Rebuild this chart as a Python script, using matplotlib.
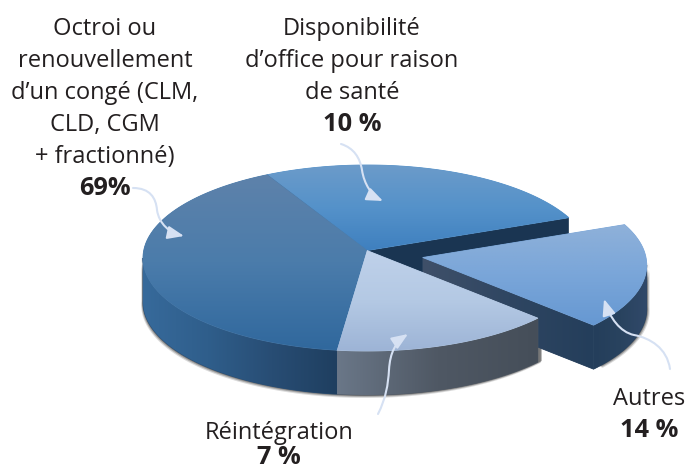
import matplotlib
matplotlib.use("Agg")
import matplotlib.pyplot as plt
import numpy as np
from matplotlib.colors import LinearSegmentedColormap
from matplotlib.patches import FancyArrowPatch, Polygon
from matplotlib.path import Path

# label lines and printed values
octroi_lines = ["Octroi ou", "renouvellement", "d\u2019un congé (CLM,", "CLD, CGM", "+ fractionné)"]
dispo_lines = ["Disponibilité", "d\u2019office pour raison", "de santé"]
reint_lines = ["Réintégration"]
autres_lines = ["Autres"]
percent_labels = ["69%", "7 %", "14 %", "10 %"]

# the slices in the original are not proportional to the printed values,
# so the sweep of each one (degrees, counter-clockwise) is read off the picture
slice_names = ["Octroi", "Réintégration", "Autres", "Disponibilité"]
drawn_degrees = [145.8, 57.4, 66.0, 90.8]
start_angle = 116.5

# ellipse geometry in image pixels
CX, CY = 367, 258
RX, RY = 224, 93
DEPTH = 44
APEX_SHIFT = -7.5
EXPLODE = (55.7, 7)

edges = start_angle + np.concatenate([[0], np.cumsum(drawn_degrees)])
angle_ranges = dict(zip(slice_names, zip(edges[:-1], edges[1:])))


def arc(a0, a1, dx=0, dy=0, n=120):
    t = np.radians(np.linspace(a0, a1, n))
    return np.column_stack([CX + dx + RX * np.cos(t), CY + dy - RY * np.sin(t)])


def top_face(name, dx=0, dy=0):
    a0, a1 = angle_ranges[name]
    apex = [[CX + dx, CY + dy + APEX_SHIFT]]
    return np.vstack([apex, arc(a0, a1, dx, dy), apex])


def outer_wall(a0, a1, dx=0, dy=0):
    pts = arc(a0, a1, dx, dy)
    return np.vstack([pts, pts[::-1] + [0, DEPTH]])


def gradient_fill(ax, xy, colors, z, vertical=True):
    x0, x1 = xy[:, 0].min(), xy[:, 0].max()
    y0, y1 = xy[:, 1].min(), xy[:, 1].max()
    ramp = np.linspace(0, 1, 256)
    ramp = ramp[:, None] if vertical else ramp[None, :]
    cmap = LinearSegmentedColormap.from_list("g", colors)
    # solid underlay keeps the edges smooth and closes gaps between clipped images
    ax.add_patch(Polygon(xy, closed=True, color=colors[len(colors) // 2], lw=0.6, zorder=z - 0.01))
    im = ax.imshow(ramp, cmap=cmap, extent=(x0, x1, y1, y0), origin="upper",
                   aspect="auto", zorder=z, interpolation="bilinear")
    clip = Polygon(xy, closed=True, facecolor="none", edgecolor="none",
                   transform=ax.transData)
    ax.add_patch(clip)
    im.set_clip_path(clip)


fig = plt.figure(figsize=(6.86, 4.70), dpi=100)
ax = fig.add_axes([0, 0, 1, 1])

# soft shadow under the walls
for off, alpha in [(3, 0.18), (2, 0.3), (1, 0.45)]:
    ax.add_patch(Polygon(outer_wall(178, 321.5) + [-off * 0.6, off], closed=True,
                         color="#3a3a3a", alpha=alpha, lw=0, zorder=1))
    ax.add_patch(Polygon(outer_wall(322, 362, *EXPLODE) + [off, off * 0.6], closed=True,
                         color="#3a3a3a", alpha=alpha, lw=0, zorder=1))

# dark cut face of the back slice, mostly hidden by the slices in front
a_end = angle_ranges["Disponibilité"][0]
end_pt = arc(a_end, a_end, n=1)[0]
apex_main = np.array([CX, CY + APEX_SHIFT])
back_face = np.array([apex_main, end_pt, end_pt + [0, DEPTH], apex_main + [0, DEPTH]])
ax.add_patch(Polygon(back_face, closed=True, color="#1a3552", lw=0, zorder=2))

# exploded slice: cut face, outer wall, top
a0, a1 = angle_ranges["Autres"]
low_pt = arc(a0, a0, *EXPLODE, n=1)[0]
apex_exp = np.array([CX + EXPLODE[0], CY + EXPLODE[1] + APEX_SHIFT])
cut_face = np.array([apex_exp, low_pt, low_pt + [0, DEPTH], apex_exp + [0, DEPTH]])
gradient_fill(ax, cut_face, ["#3f5069", "#2f4662", "#243e5b"], 3, vertical=False)
gradient_fill(ax, outer_wall(a0, 360, *EXPLODE), ["#243e5b", "#29435f", "#31496a"], 3.1, vertical=False)
gradient_fill(ax, top_face("Autres", *EXPLODE), ["#8fb1d9", "#7aa6d9", "#6698d2"], 4)

# main pie
gradient_fill(ax, top_face("Disponibilité"), ["#6c9bc9", "#5592ca", "#3f80bf"], 5)
a0, a1 = angle_ranges["Octroi"]
gradient_fill(ax, outer_wall(180, a1), ["#376a9b", "#2f5e8b", "#284d74", "#1f3f60"], 6, vertical=False)
a0, a1 = angle_ranges["Réintégration"]
gradient_fill(ax, outer_wall(a0, a1), ["#6a7788", "#4f5864", "#454e59"], 6, vertical=False)
gradient_fill(ax, top_face("Octroi"), ["#5e82aa", "#4b7cab", "#30689d"], 7)
gradient_fill(ax, top_face("Réintégration"), ["#bfd1ea", "#b4c9e4", "#9db4d6"], 7)

# curved arrows from labels to slices
arrow_paths = [
    [(133, 188), (150, 188), (156, 198), (157, 210), (159, 224), (170, 233), (184, 236)],
    [(341, 144), (354, 148), (360, 158), (362, 170), (364, 184), (372, 196), (383, 201)],
    [(378, 414), (386, 398), (388, 385), (389, 370), (390, 352), (396, 342), (408, 334)],
    [(670, 369), (667, 348), (650, 338), (634, 335), (620, 332), (610, 318), (604, 299)],
]
codes = [Path.MOVETO] + [Path.CURVE4] * 6
for pts in arrow_paths:
    ax.add_patch(FancyArrowPatch(path=Path(pts, codes), transform=ax.transData,
                                 arrowstyle="-|>,head_length=0.7,head_width=0.28",
                                 mutation_scale=14, lw=1.5, color="#d6e1f3",
                                 shrinkA=0, shrinkB=0, zorder=8))

# labels
TEXT = "#231f20"
FONT = "Open Sans"
FS = 17
FS_BOLD = 18.3


def label(x, baseline, lines, value, step=32):
    for i, line in enumerate(lines):
        ax.text(x, baseline + i * step, line, ha="center", va="baseline",
                fontsize=FS, family=FONT, color=TEXT, zorder=9)
    ax.text(x, baseline + len(lines) * step, value, ha="center", va="baseline",
            fontsize=FS_BOLD, family=FONT, fontweight="bold", color=TEXT, zorder=9)


label(105, 35, octroi_lines, percent_labels[0])
label(352, 35, dispo_lines, percent_labels[3])
label(279, 439, reint_lines, percent_labels[1], step=25.5)
label(649, 405, autres_lines, percent_labels[2])

ax.set_xlim(0, 686)
ax.set_ylim(470, 0)
ax.axis("off")
fig.savefig("out.png", dpi=100, facecolor="white")
